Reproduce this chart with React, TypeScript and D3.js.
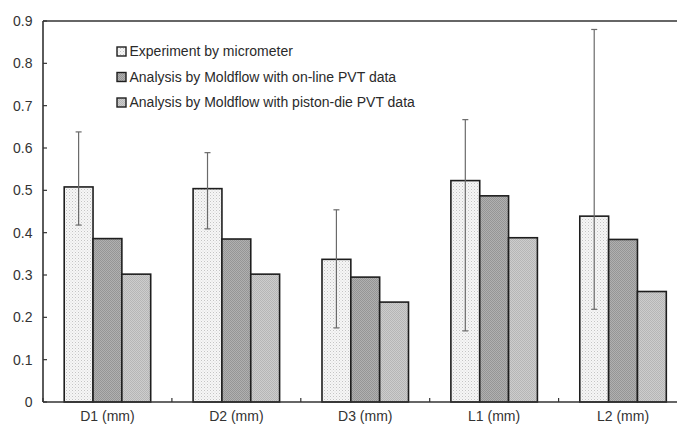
import React from "react";
import * as d3 from "d3";

const categories = ["D1 (mm)", "D2 (mm)", "D3 (mm)", "L1 (mm)", "L2 (mm)"];
const seriesNames = [
  "Experiment by micrometer",
  "Analysis by Moldflow with on-line PVT data",
  "Analysis by Moldflow with piston-die PVT data",
];
const experiment = [0.508, 0.504, 0.337, 0.523, 0.439];
const onlinePVT = [0.386, 0.385, 0.295, 0.487, 0.384];
const pistonPVT = [0.302, 0.302, 0.236, 0.388, 0.261];
const errUpper = [0.638, 0.589, 0.454, 0.667, 0.88];
const errLower = [0.418, 0.409, 0.175, 0.168, 0.219];
const yTicks = [0, 0.1, 0.2, 0.3, 0.4, 0.5, 0.6, 0.7, 0.8, 0.9];

const W = 677;
const H = 432;
const left = 43;
const right = 687.5;
const top = 21;
const bottom = 402;
const font = "Liberation Sans, Arial, sans-serif";
const patternIds = ["patExp", "patOnline", "patPiston"];

export default function App() {
  const series = [experiment, onlinePVT, pistonPVT];
  const x = d3.scaleBand<string>().domain(categories).range([left, right]).paddingInner(0).paddingOuter(0);
  const xi = d3
    .scaleBand<number>()
    .domain([0, 1, 2])
    .range([0, x.bandwidth()])
    .paddingInner(0)
    .paddingOuter(0.735);
  const y = d3.scaleLinear().domain([0, 0.9]).range([bottom, top]);
  const fmt = (v: number) => (v === 0 ? "0" : d3.format(".1f")(v));
  const boundaries = d3.range(categories.length + 1).map((i) => left + i * x.step());

  return (
    <svg
      width={W}
      height={H}
      style={{ position: "absolute", left: 0, top: 0, background: "#fff" }}
      fontFamily={font}
    >
      <defs>
        <pattern id="patExp" width="3" height="3" patternUnits="userSpaceOnUse">
          <rect width="3" height="3" fill="#f6f6f6" />
          <rect x="0" y="0" width="1" height="1" fill="#c4c4c4" />
          <rect x="1.5" y="1.5" width="1" height="1" fill="#d8d8d8" />
        </pattern>
        <pattern id="patOnline" width="2" height="2" patternUnits="userSpaceOnUse">
          <rect width="2" height="2" fill="#b0b0b0" />
          <rect x="0" y="0" width="1" height="1" fill="#959595" />
          <rect x="1" y="1" width="1" height="1" fill="#959595" />
        </pattern>
        <pattern id="patPiston" width="2" height="2" patternUnits="userSpaceOnUse">
          <rect width="2" height="2" fill="#cdcdcd" />
          <rect x="0" y="0" width="1" height="1" fill="#b6b6b6" />
          <rect x="1" y="1" width="1" height="1" fill="#b6b6b6" />
        </pattern>
      </defs>

      {/* bars */}
      {categories.map((c, ci) =>
        series.map((s, si) => {
          const bx = (x(c) ?? 0) + (xi(si) ?? 0);
          return (
            <rect
              key={c + si}
              x={bx}
              y={y(s[ci])}
              width={xi.bandwidth()}
              height={bottom - y(s[ci])}
              fill={`url(#${patternIds[si]})`}
              stroke="#1e1e1e"
              strokeWidth={1.6}
            />
          );
        })
      )}

      {/* error bars */}
      {categories.map((c, ci) => {
        const cx = (x(c) ?? 0) + (xi(0) ?? 0) + xi.bandwidth() / 2;
        return (
          <g key={"e" + c} stroke="#6a6a6a" strokeWidth={1.2}>
            <line x1={cx} x2={cx} y1={y(errUpper[ci])} y2={y(errLower[ci])} />
            <line x1={cx - 3} x2={cx + 3} y1={y(errUpper[ci])} y2={y(errUpper[ci])} />
            <line x1={cx - 3} x2={cx + 3} y1={y(errLower[ci])} y2={y(errLower[ci])} />
          </g>
        );
      })}

      {/* axes */}
      <g stroke="#333" strokeWidth={1.6} fill="none">
        <line x1={left} x2={left} y1={top} y2={bottom} />
        <line x1={left} x2={W} y1={bottom} y2={bottom} />
        <line x1={left} x2={W} y1={top} y2={top} />
      </g>
      <g stroke="#333" strokeWidth={1.2}>
        {yTicks.map((t) => (
          <line key={"yt" + t} x1={left} x2={left + 4} y1={y(t)} y2={y(t)} />
        ))}
        {boundaries.map((bx, i) => (
          <line key={"xt" + i} x1={bx} x2={bx} y1={bottom} y2={bottom - 4} />
        ))}
      </g>
      {yTicks.map((t) => (
        <text
          key={"yl" + t}
          x={32.5}
          y={y(t)}
          dy="0.35em"
          textAnchor="end"
          fontSize={14}
          fill="#333"
        >
          {fmt(t)}
        </text>
      ))}
      {categories.map((c) => (
        <text
          key={"xl" + c}
          x={(x(c) ?? 0) + x.bandwidth() / 2}
          y={416}
          dy="0.35em"
          textAnchor="middle"
          fontSize={14}
          fill="#333"
        >
          {c}
        </text>
      ))}

      {/* legend */}
      {seriesNames.map((n, i) => {
        const ly = 51.5 + i * 25.5;
        return (
          <g key={"lg" + i}>
            <rect
              x={117}
              y={ly - 4.5}
              width={9}
              height={9}
              fill={`url(#${patternIds[i]})`}
              stroke="#1e1e1e"
              strokeWidth={1.4}
            />
            <text x={129.5} y={ly} dy="0.35em" fontSize={14} fill="#2a2a2a">
              {n}
            </text>
          </g>
        );
      })}
    </svg>
  );
}
